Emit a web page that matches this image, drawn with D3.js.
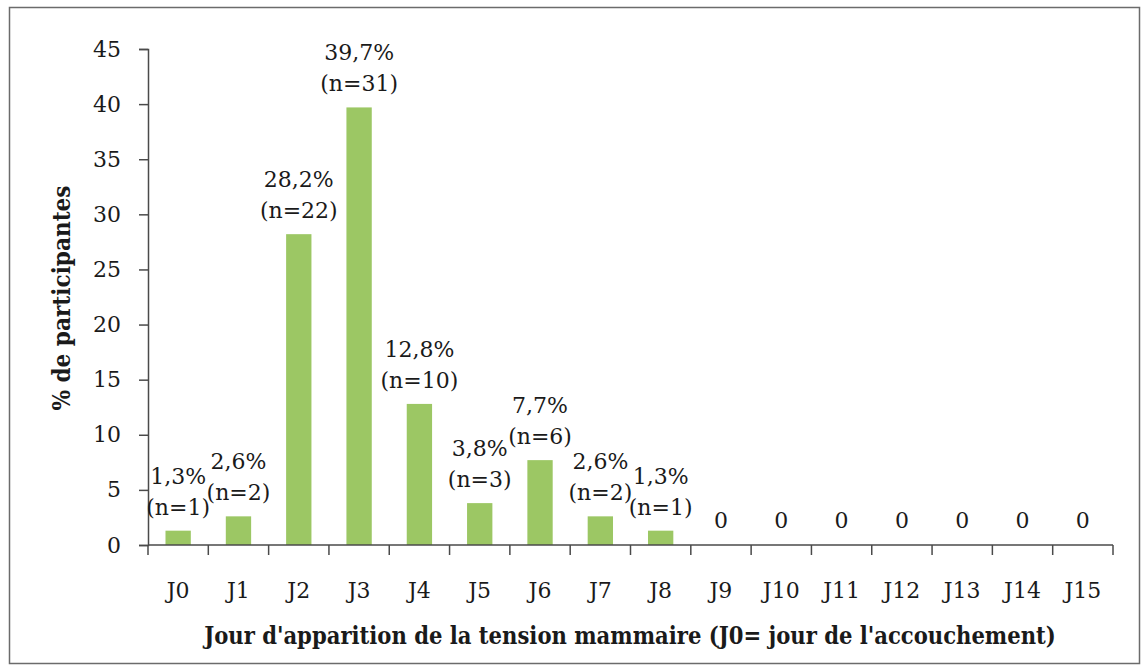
<!DOCTYPE html>
<html>
<head>
<meta charset="utf-8">
<script src="https://cdn.jsdelivr.net/npm/d3@7"></script>
<style>
  body { margin: 0; background: #fff; }
  text { font-family: "DejaVu Serif", serif; fill: #1a1a1a; }
  .title { font-family: "DejaVu Serif Condensed", "DejaVu Serif", serif; font-weight: bold; font-stretch: condensed; }
</style>
</head>
<body>
<svg id="chart" width="1143" height="666"></svg>
<script>
// jours apres l'accouchement
const days = ["J0", "J1", "J2", "J3", "J4", "J5", "J6", "J7", "J8", "J9", "J10", "J11", "J12", "J13", "J14", "J15"];
const percents = [1.3, 2.6, 28.2, 39.7, 12.8, 3.8, 7.7, 2.6, 1.3, 0, 0, 0, 0, 0, 0, 0];
const counts = [1, 2, 22, 31, 10, 3, 6, 2, 1, 0, 0, 0, 0, 0, 0, 0];
const yTicks = [0, 5, 10, 15, 20, 25, 30, 35, 40, 45];

const svg = d3.select("#chart");
const plotLeft = 148, plotRight = 1113, plotTop = 49, plotBottom = 545;
const axisColor = "#4a4a4a";

// cadre
svg.append("rect")
  .attr("x", 9.5).attr("y", 7.5)
  .attr("width", 1130).attr("height", 656)
  .attr("fill", "none")
  .attr("stroke", "#6b6b6b")
  .attr("stroke-width", 1.5);

let x = d3.scaleBand().domain(days).range([plotLeft, plotRight]).padding(0);
let y = d3.scaleLinear().domain([0, 45]).range([plotBottom, plotTop]);
let barW = x.bandwidth() * 0.42;

// axe Y
let yAxis = svg.append("g")
  .attr("transform", "translate(" + plotLeft + ",0)")
  .call(d3.axisLeft(y).tickValues(yTicks).tickSize(9).tickPadding(18));
yAxis.select(".domain").attr("stroke", axisColor).attr("stroke-width", 1.5);
yAxis.selectAll(".tick line").attr("stroke", axisColor).attr("stroke-width", 1.5);
yAxis.selectAll(".tick text")
  .style("font-family", "DejaVu Serif")
  .style("font-size", "22px")
  .attr("fill", "#1a1a1a");

// barres
svg.selectAll(".bar")
  .data(days)
  .enter().append("rect")
  .attr("class", "bar")
  .attr("x", function (d) { return x(d) + (x.bandwidth() - barW) / 2; })
  .attr("y", function (d, i) { return y(percents[i]); })
  .attr("width", barW)
  .attr("height", function (d, i) { return plotBottom - y(percents[i]); })
  .attr("fill", "#9cc764");

// axe X, graduations entre categories
let xAxis = svg.append("g").attr("transform", "translate(0," + plotBottom + ")");
xAxis.append("line")
  .attr("x1", plotLeft).attr("x2", plotRight)
  .attr("stroke", axisColor).attr("stroke-width", 1.5);
let bounds = days.map(function (d) { return x(d); }).concat([plotRight]);
xAxis.selectAll(".xtick")
  .data(bounds)
  .enter().append("line")
  .attr("x1", function (d) { return d; })
  .attr("x2", function (d) { return d; })
  .attr("y1", 0).attr("y2", 10)
  .attr("stroke", axisColor).attr("stroke-width", 1.5);
xAxis.selectAll(".xlab")
  .data(days)
  .enter().append("text")
  .attr("x", function (d) { return x(d) + x.bandwidth() / 2; })
  .attr("y", 53)
  .attr("text-anchor", "middle")
  .style("font-size", "22px")
  .text(function (d) { return d; });

// etiquettes de valeurs
let labels = svg.selectAll(".lab")
  .data(days)
  .enter().append("g")
  .attr("transform", function (d, i) {
    return "translate(" + (x(d) + x.bandwidth() / 2) + "," + y(percents[i]) + ")";
  });
labels.each(function (d, i) {
  let g = d3.select(this);
  if (counts[i] === 0) {
    g.append("text").attr("y", -17).attr("text-anchor", "middle")
      .style("font-size", "22px").text("0");
    return;
  }
  g.append("text").attr("y", -47).attr("text-anchor", "middle")
    .style("font-size", "22px")
    .text(String(percents[i]).replace(".", ",") + "%");
  g.append("text").attr("y", -16).attr("text-anchor", "middle")
    .style("font-size", "22px")
    .text("(n=" + counts[i] + ")");
});

// titres des axes
svg.append("text")
  .attr("class", "title")
  .attr("x", 630).attr("y", 644)
  .attr("text-anchor", "middle")
  .style("font-size", "23.5px")
  .text("Jour d'apparition de la tension mammaire (J0= jour de l'accouchement)");

svg.append("text")
  .attr("class", "title")
  .attr("transform", "translate(70,298) rotate(-90)")
  .attr("text-anchor", "middle")
  .style("font-size", "24px")
  .text("% de participantes");
</script>
</body>
</html>
